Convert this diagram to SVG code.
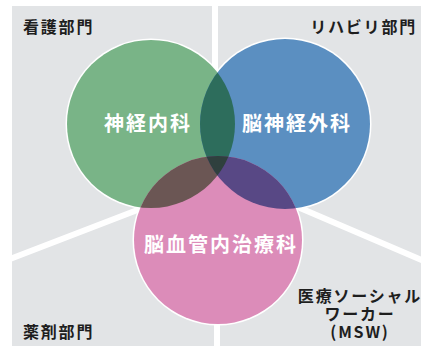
<svg xmlns="http://www.w3.org/2000/svg" width="421" height="348" viewBox="0 0 421 348">
<style>
.lbl{font-family:"Noto Sans CJK JP","Noto Sans",sans-serif;font-weight:bold;fill:#ffffff;font-size:20px;letter-spacing:2px;text-anchor:middle}
.corner{font-family:"Noto Sans CJK JP","Noto Sans",sans-serif;font-weight:bold;fill:#1e1e1e;font-size:16px;letter-spacing:1.8px}
.div{stroke:#ffffff;stroke-width:6;stroke-linecap:round;fill:none}
.rim{fill:none;stroke:#ffffff;stroke-width:3}
</style>
<defs>
<clipPath id="cg"><circle cx="151" cy="124" r="84"/></clipPath>
<clipPath id="cb"><circle cx="285" cy="124" r="85"/></clipPath>
</defs>
<rect x="0" y="0" width="421" height="348" fill="#ffffff"/>
<rect x="12" y="6" width="409" height="340" fill="#e2e4e6"/>
<g id="dividers">
<line class="div" x1="215" y1="2" x2="215" y2="80"/>
<line class="div" x1="217" y1="300" x2="217" y2="348"/>
<line class="div" x1="10" y1="259" x2="140" y2="209"/>
<line class="div" x1="300" y1="208" x2="424" y2="261"/>
</g>
<g id="rims">
<circle class="rim" cx="151" cy="124" r="84"/>
<circle class="rim" cx="285" cy="124" r="85"/>
<circle class="rim" cx="218" cy="240" r="84"/>
</g>
<g id="neurology">
<circle cx="151" cy="124" r="84" fill="#79b487"/>
</g>
<g id="neurosurgery">
<circle cx="285" cy="124" r="85" fill="#5b8fc1"/>
</g>
<g id="endovascular">
<circle cx="218" cy="240" r="84" fill="#dc8cb9"/>
</g>
<g id="overlaps">
<circle cx="285" cy="124" r="85" fill="#2d6d5c" clip-path="url(#cg)"/>
<circle cx="218" cy="240" r="84" fill="#6b5654" clip-path="url(#cg)"/>
<circle cx="218" cy="240" r="84" fill="#584885" clip-path="url(#cb)"/>
<g clip-path="url(#cg)"><circle cx="218" cy="240" r="84" fill="#2f403e" clip-path="url(#cb)"/></g>
</g>
<g id="labels">
<text class="lbl" x="148" y="131">神経内科</text>
<text class="lbl" x="297" y="131">脳神経外科</text>
<text class="lbl" x="221" y="252">脳血管内治療科</text>
</g>
<g id="nursing"><text class="corner" x="23" y="33">看護部門</text></g>
<g id="rehab"><text class="corner" x="417" y="33" text-anchor="end">リハビリ部門</text></g>
<g id="pharmacy"><text class="corner" x="23" y="338">薬剤部門</text></g>
<g id="msw">
<text class="corner" text-anchor="middle" letter-spacing="0.5"><tspan x="360" y="302">医療ソーシャル</tspan><tspan x="360" y="320">ワーカー</tspan><tspan x="360" y="338">(MSW)</tspan></text>
</g>
</svg>
